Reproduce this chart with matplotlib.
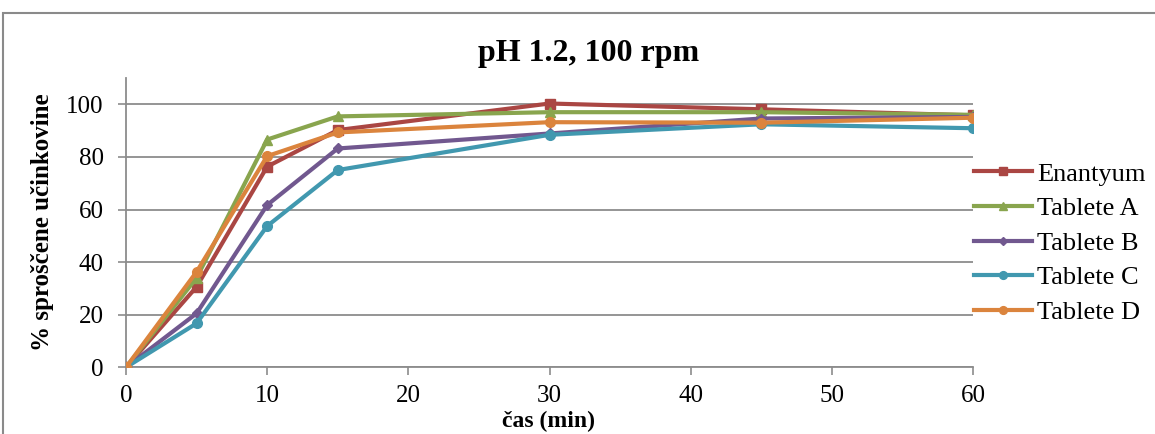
import numpy as np
import matplotlib.pyplot as plt
from matplotlib.patches import Rectangle

plt.rcParams['font.family'] = ['Liberation Serif', 'DejaVu Serif']

# time points (min)
t = [0, 5, 10, 15, 30, 45, 60]

enantyum = [0, 30.6, 76.3, 90.2, 100.3, 98.1, 95.8]
tab_a = [0, 34.0, 86.6, 95.4, 97.0, 97.0, 96.0]
tab_b = [0, 20.5, 61.7, 83.2, 88.9, 94.6, 95.2]
tab_c = [0, 16.7, 53.7, 75.0, 88.4, 92.4, 90.9]
tab_d = [0, 36.3, 80.3, 89.3, 93.2, 93.0, 94.9]

series = [
    ('Enantyum', enantyum, '#AA4643', 's', 7),
    ('Tablete A', tab_a, '#89A54E', '^', 7),
    ('Tablete B', tab_b, '#71588F', 'D', 5),
    ('Tablete C', tab_c, '#4198AF', 'o', 7),
    ('Tablete D', tab_d, '#DB843D', 'o', 7),
]

fig = plt.figure(figsize=(11.55, 4.34), dpi=100)
ax = fig.add_axes([126/1155, 1-367.3/434, 847/1155, 289.3/434])

# outer chart frame
fig.patches.append(Rectangle((3/1155, -0.1), 1.2, 1.1-13/434, transform=fig.transFigure,
                             fill=False, edgecolor='#8a8a8a', linewidth=1.5))

for name, vals, col, mk, ms in series:
    ax.plot(t, vals, color=col, lw=3, marker=mk, ms=ms, label=name, zorder=3)

ax.set_xlim(0, 60)
ax.set_ylim(0, 110)
ax.set_xticks(range(0, 61, 10))
ax.set_yticks(range(0, 101, 20))
ax.yaxis.grid(True, color='#8c8c8c', lw=1.3)
ax.set_axisbelow(True)

for s in ['top', 'right']:
    ax.spines[s].set_visible(False)
for s in ['left', 'bottom']:
    ax.spines[s].set_color('#8c8c8c')
    ax.spines[s].set_linewidth(1.3)
ax.tick_params(axis='both', colors='#8c8c8c', labelcolor='black', labelsize=18,
               length=6, width=1.2, direction='out')
ax.tick_params(axis='x', pad=7)
ax.tick_params(axis='y', pad=10)

fig.text(589/1155, 1-54/434, 'pH 1.2, 100 rpm', fontsize=23, fontweight='bold',
         ha='center', va='center')
fig.text(548/1155, 1.5/434, 'čas (min)', fontsize=17, fontweight='bold',
         ha='center', va='bottom')
ax.set_ylabel('% sproščene učinkovine', fontsize=18, fontweight='bold', labelpad=9)

fig.legend(loc='center left', bbox_to_anchor=(974/1155, 1-243/434), frameon=False,
           fontsize=19, handlelength=2.2, handletextpad=0.2, labelspacing=0.42,
           borderaxespad=0, borderpad=0, markerscale=0.8)

fig.savefig('out.png', dpi=100)
